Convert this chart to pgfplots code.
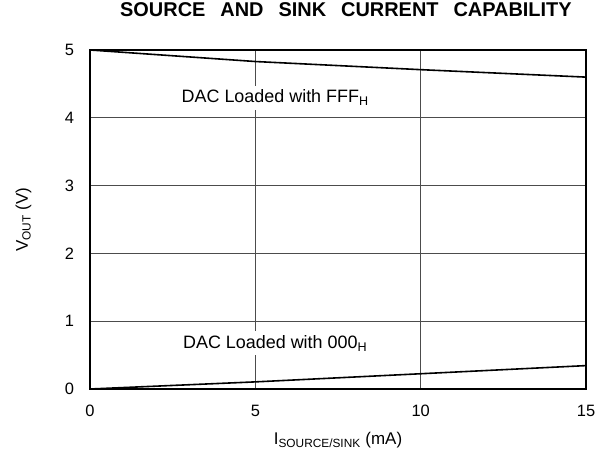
\documentclass[border=0pt]{standalone}
\usepackage{pgfplots}
\pgfplotsset{compat=1.18}
\usepackage{fontspec}
\setmainfont{Liberation Sans}
\begin{document}
\begin{tikzpicture}
\path[use as bounding box] (-90bp,-73bp) rectangle (516bp,389bp);
\begin{axis}[
  at={(0,0)}, anchor=south west,
  scale only axis,
  width=496bp, height=339bp,
  xmin=0, xmax=15, ymin=0, ymax=5,
  xtick={0,5,10,15}, ytick={0,1,2,3,4,5},
  grid=major,
  grid style={black!70, line width=0.6pt},
  axis line style={line width=2.2pt},
  tick style={draw=none},
  /pgf/number format/assume math mode=true,
  ticklabel style={font=\fontsize{16.5}{19}\selectfont},
  xticklabel style={yshift=-13pt},
  yticklabel style={xshift=-12.5pt},
  title={\bfseries SOURCE\hspace{15bp}AND\hspace{15bp}SINK\hspace{15bp}CURRENT\hspace{15bp}CAPABILITY},
  title style={font=\fontsize{20}{24}\selectfont, at={(axis description cs:0.516,1.0826)}, anchor=base},
  xlabel={I\textsubscript{SOURCE/SINK} (mA)},
  ylabel={V\textsubscript{OUT} (V)},
  label style={font=\fontsize{17}{20}\selectfont},
  xlabel style={at={(axis description cs:0.5,-0.165)}, anchor=base},
  ylabel style={at={(axis description cs:-0.125,0.5)}, anchor=base},
  clip=false,
]
\addplot[black, line width=1.6pt] coordinates {(0,5) (5,4.83) (10,4.71) (15,4.60)};
\addplot[black, line width=1.6pt] coordinates {(0,0) (5,0.105) (10,0.225) (15,0.345)};
\node[fill=white, inner sep=4pt, anchor=base, font=\fontsize{18}{21}\selectfont] at (axis cs:5.6,4.22) {DAC Loaded with FFF\textsubscript{H}};
\node[fill=white, inner sep=4pt, anchor=base, font=\fontsize{18}{21}\selectfont] at (axis cs:5.6,0.60) {DAC Loaded with 000\textsubscript{H}};
\end{axis}
\end{tikzpicture}
\end{document}
